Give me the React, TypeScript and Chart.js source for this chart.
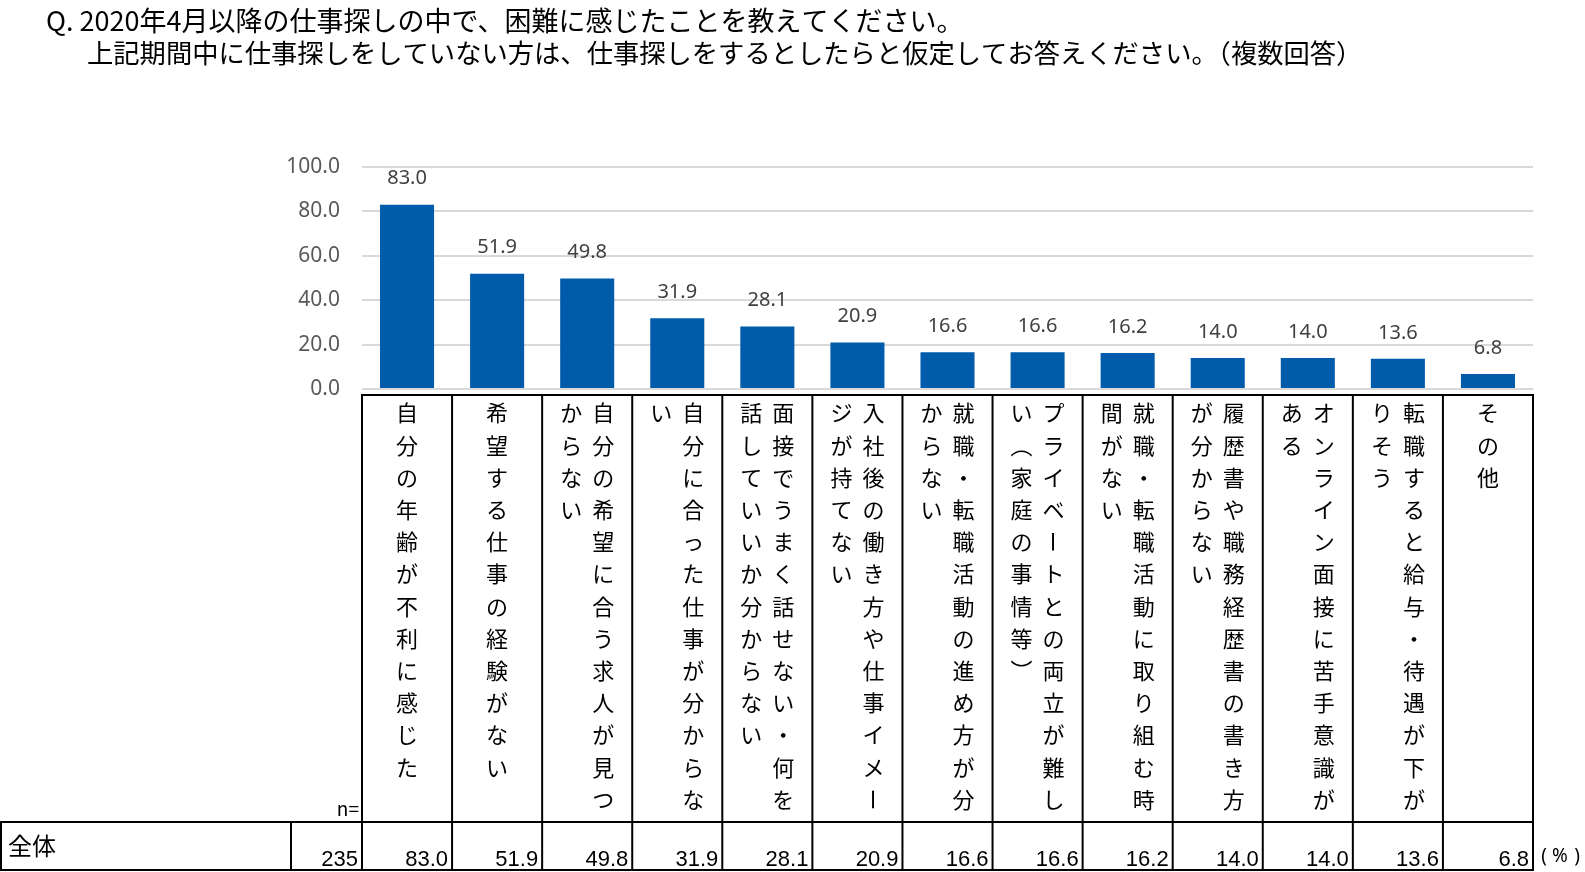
import React, { useEffect, useRef } from "react";
import { Chart, registerables } from "chart.js";
Chart.register(...registerables);

const TITLE_LINE_1 = "Q. 2020年4月以降の仕事探しの中で、困難に感じたことを教えてください。";
const TITLE_LINE_2 = "上記期間中に仕事探しをしていない方は、仕事探しをするとしたらと仮定してお答えください。（複数回答）";

const categories = [
  "自分の年齢が不利に感じた",
  "希望する仕事の経験がない",
  "自分の希望に合う求人が見つからない",
  "自分に合った仕事が分からない",
  "面接でうまく話せない・何を話していいか分からない",
  "入社後の働き方や仕事イメージが持てない",
  "就職・転職活動の進め方が分からない",
  "プライベートとの両立が難しい（家庭の事情等）",
  "就職・転職活動に取り組む時間がない",
  "履歴書や職務経歴書の書き方が分からない",
  "オンライン面接に苦手意識がある",
  "転職すると給与・待遇が下がりそう",
  "その他",
];
const values = [83.0, 51.9, 49.8, 31.9, 28.1, 20.9, 16.6, 16.6, 16.2, 14.0, 14.0, 13.6, 6.8];
const yTicks = [0, 20, 40, 60, 80, 100];
const rowLabel = "全体";
const nLabel = "n=";
const nValue = 235;
const unitLabel = ["(", "%", ")"];

const CJK = '"Noto Sans CJK JP", "Noto Sans", sans-serif';
const LATIN = '"Noto Sans", "Open Sans", sans-serif';
const CHARS_PER_LINE = 13;

function wrap(label: string): string[] {
  const chars = Array.from(label);
  const out: string[] = [];
  for (let i = 0; i < chars.length; i += CHARS_PER_LINE) {
    out.push(chars.slice(i, i + CHARS_PER_LINE).join(""));
  }
  return out;
}

const verticalMap: Record<string, string> = { "（": "︵", "）": "︶" };

const tablePlugin = {
  id: "tablePlugin",
  afterDatasetsDraw(chart: any) {
    const ctx: CanvasRenderingContext2D = chart.ctx;
    const meta = chart.getDatasetMeta(0);
    ctx.save();
    ctx.fillStyle = "#404040";
    ctx.font = `20px ${LATIN}`;
    ctx.textAlign = "center";
    ctx.textBaseline = "middle";
    meta.data.forEach((bar: any, i: number) => {
      ctx.fillText(values[i].toFixed(1), bar.x, bar.y - 26);
    });
    ctx.restore();
  },
  afterDraw(chart: any) {
    const ctx: CanvasRenderingContext2D = chart.ctx;
    const xs = chart.scales.x;
    const area = chart.chartArea;
    const n = categories.length;
    const half = (xs.getPixelForValue(1) - xs.getPixelForValue(0)) / 2;
    const left = xs.getPixelForValue(0) - half;
    const right = xs.getPixelForValue(n - 1) + half;
    const tableTop = area.bottom + 6;
    const headerBottom = 822;
    const rowBottom = 870;

    ctx.save();
    // title
    ctx.fillStyle = "#000";
    ctx.textAlign = "left";
    ctx.textBaseline = "middle";
    ctx.font = `27px ${CJK}`;
    ctx.fillText(TITLE_LINE_1, 46, 21);
    ctx.font = `26.3px ${CJK}`;
    ctx.fillText(TITLE_LINE_2, 87, 53);

    // lines
    ctx.strokeStyle = "#000";
    ctx.lineWidth = 2;
    ctx.beginPath();
    ctx.moveTo(left, tableTop);
    ctx.lineTo(right, tableTop);
    ctx.moveTo(0, headerBottom);
    ctx.lineTo(right, headerBottom);
    ctx.moveTo(0, rowBottom);
    ctx.lineTo(right, rowBottom);
    ctx.moveTo(1, headerBottom);
    ctx.lineTo(1, rowBottom + 1);
    ctx.moveTo(291, headerBottom);
    ctx.lineTo(291, rowBottom + 1);
    for (let i = 0; i <= n; i++) {
      const x = i === n ? right : xs.getPixelForValue(i) - half;
      ctx.moveTo(x, tableTop - 1);
      ctx.lineTo(x, rowBottom + 1);
    }
    ctx.stroke();

    // vertical category labels
    ctx.fillStyle = "#000";
    ctx.font = `22px ${CJK}`;
    ctx.textAlign = "center";
    ctx.textBaseline = "middle";
    const pitch = 32.2;
    const lineGap = 32;
    categories.forEach((label, i) => {
      const cx = xs.getPixelForValue(i);
      const lines = wrap(label);
      lines.forEach((line, li) => {
        const x = cx + ((lines.length - 1) / 2) * lineGap - li * lineGap;
        Array.from(line).forEach((ch, k) => {
          const y = tableTop + 18 + k * pitch;
          if (ch === "ー") {
            ctx.save();
            ctx.translate(x, y);
            ctx.rotate(Math.PI / 2);
            ctx.fillText(ch, 0, 0);
            ctx.restore();
          } else {
            ctx.fillText(verticalMap[ch] || ch, x, y);
          }
        });
      });
    });

    // n= label
    ctx.textAlign = "right";
    ctx.textBaseline = "alphabetic";
    ctx.font = `19px ${CJK}`;
    ctx.fillText(nLabel, left - 3, 816);

    // row
    ctx.textAlign = "left";
    ctx.textBaseline = "middle";
    ctx.font = `24px ${CJK}`;
    ctx.fillText(rowLabel, 8, 846);

    ctx.textAlign = "right";
    ctx.textBaseline = "alphabetic";
    ctx.font = `22px "Liberation Sans", sans-serif`;
    ctx.fillText(String(nValue), left - 4, 866);
    values.forEach((v, i) => {
      const x = xs.getPixelForValue(i) + half - 4;
      ctx.fillText(v.toFixed(1), x, 866);
    });

    // unit
    ctx.textAlign = "center";
    ctx.textBaseline = "middle";
    ctx.font = `19px ${LATIN}`;
    const ux = [right + 11, right + 27, right + 44];
    unitLabel.forEach((ch, k) => ctx.fillText(ch, ux[k], 857));
    ctx.restore();
  },
};

export default function App() {
  const ref = useRef<HTMLCanvasElement | null>(null);
  useEffect(() => {
    document.body.style.margin = "0";
    const canvas = ref.current;
    if (!canvas) return;
    const chart = new Chart(canvas, {
      type: "bar",
      data: {
        labels: categories,
        datasets: [
          {
            data: values,
            backgroundColor: "#005BAB",
            borderWidth: 0,
            categoryPercentage: 1,
            barPercentage: 0.6,
          },
        ],
      },
      options: {
        animation: false,
        responsive: false,
        maintainAspectRatio: false,
        events: [],
        layout: { padding: { left: 0, right: 52, top: 167, bottom: 483 } },
        plugins: {
          legend: { display: false },
          tooltip: { enabled: false },
          title: { display: false },
        },
        scales: {
          x: { display: false },
          y: {
            min: 0,
            max: 100,
            afterFit: (scale: any) => {
              scale.width = 362;
            },
            afterBuildTicks: (scale: any) => {
              scale.ticks = yTicks.map((v) => ({ value: v }));
            },
            border: { display: false },
            grid: { color: "#D9D9D9", lineWidth: 2, drawTicks: false },
            ticks: {
              padding: 22,
              color: "#595959",
              font: { family: LATIN, size: 21 },
              callback: (v: any) => Number(v).toFixed(1),
            },
          },
        },
      },
      plugins: [tablePlugin],
    });
    return () => chart.destroy();
  }, []);
  return (
    <div style={{ position: "fixed", left: 0, top: 0, width: 1585, height: 872, background: "#fff" }}>
      <canvas ref={ref} width={1585} height={872} style={{ display: "block" }} />
    </div>
  );
}
